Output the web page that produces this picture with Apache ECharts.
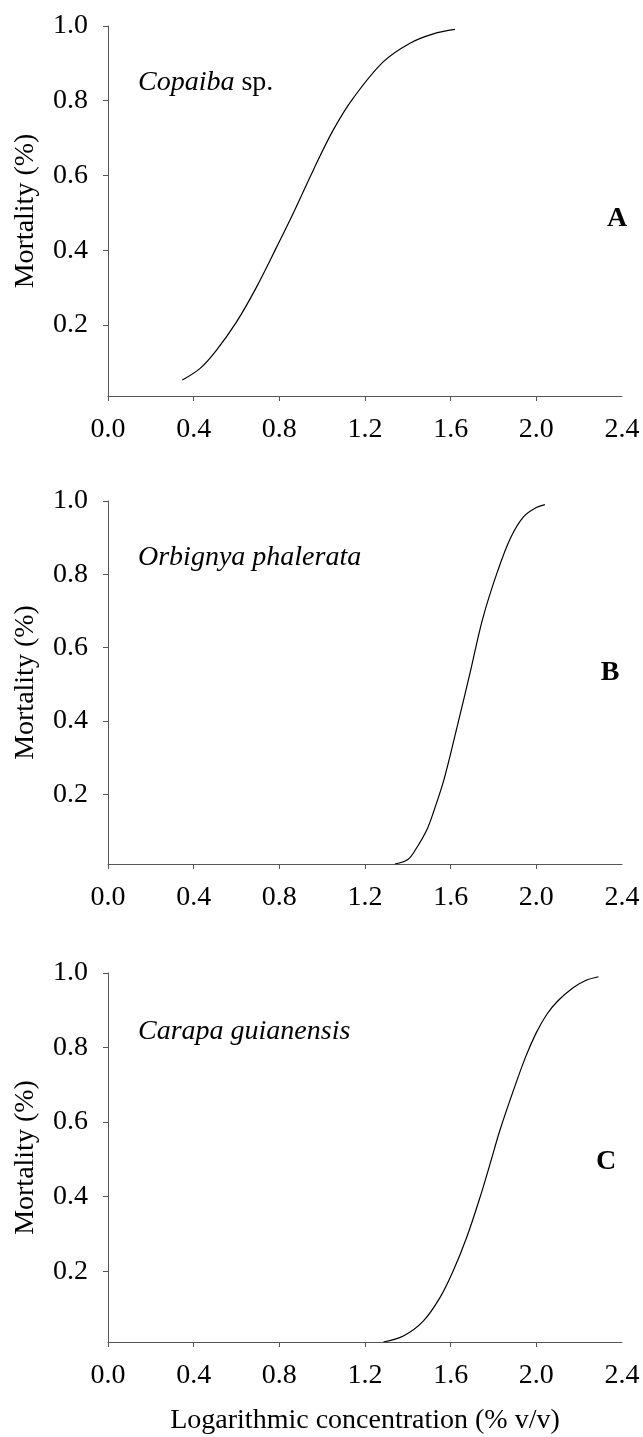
<!DOCTYPE html>
<html>
<head>
<meta charset="utf-8">
<script src="https://cdn.jsdelivr.net/npm/echarts@6/dist/echarts.min.js"></script>
<style>
html,body{margin:0;padding:0;background:#fff;}
#chart{width:643px;height:1437px;}
</style>
</head>
<body>
<div id="chart"></div>
<script>
// ---- data ----
const xTickValues = [0.0, 0.4, 0.8, 1.2, 1.6, 2.0];
const yTickValues = [0.2, 0.4, 0.6, 0.8, 1.0];

const concA = [0.347, 0.43, 0.507, 0.601, 0.694, 0.788, 0.865, 0.959, 1.052, 1.145, 1.285, 1.41, 1.519, 1.62];
const mortA = [0.053, 0.084, 0.133, 0.209, 0.302, 0.409, 0.499, 0.615, 0.722, 0.807, 0.904, 0.954, 0.979, 0.991];

const concB = [1.34, 1.40, 1.44, 1.49, 1.52, 1.57, 1.63, 1.69, 1.75, 1.82, 1.88, 1.94, 2.0, 2.04];
const mortB = [0.01, 0.022, 0.053, 0.105, 0.152, 0.243, 0.384, 0.53, 0.68, 0.81, 0.90, 0.957, 0.982, 0.99];

const concC = [1.286, 1.379, 1.472, 1.55, 1.612, 1.675, 1.737, 1.784, 1.83, 1.893, 1.95, 2.0, 2.05, 2.1, 2.17, 2.23, 2.29];
const mortC = [0.01, 0.026, 0.066, 0.129, 0.201, 0.291, 0.398, 0.488, 0.578, 0.685, 0.775, 0.84, 0.89, 0.925, 0.96, 0.98, 0.99];

const species = ['Copaiba', 'Orbignya phalerata', 'Carapa guianensis'];
const panelLetters = ['A', 'B', 'C'];
const yName = 'Mortality (%)';
const xName = 'Logarithmic concentration (% v/v)';

// ---- layout ----
const FONT = '"Liberation Serif", "Times New Roman", serif';
const grids = [
  {left: 108, width: 514, top: 26, height: 370},
  {left: 108, width: 514, top: 501, height: 363},
  {left: 108, width: 514, top: 973, height: 369}
];
const axisColor = '#555';

function pairs(xs, ys){ return xs.map((x,i)=>[x, ys[i]]); }
const seriesData = [pairs(concA, mortA), pairs(concB, mortB), pairs(concC, mortC)];

const option = {
  animation: false,
  backgroundColor: '#fff',
  grid: grids.map(g => Object.assign({containLabel: false}, g)),
  xAxis: grids.map((g, i) => ({
    type: 'value', gridIndex: i, min: 0, max: 2.4, interval: 0.4,
    axisLine: {show: true, onZero: false, lineStyle: {color: axisColor, width: 1}},
    axisTick: {show: true, inside: false, length: 5, customValues: xTickValues, lineStyle: {color: axisColor}},
    splitLine: {show: false},
    axisLabel: {show: true, margin: 20, fontFamily: FONT, fontSize: 28, color: '#000',
      formatter: v => v.toFixed(1)}
  })),
  yAxis: grids.map((g, i) => ({
    type: 'value', gridIndex: i, min: 0.01, max: 1.0,
    axisLine: {show: true, onZero: false, lineStyle: {color: axisColor, width: 1}},
    axisTick: {show: true, inside: false, length: 5, customValues: yTickValues, lineStyle: {color: axisColor}},
    splitLine: {show: false},
    axisLabel: {show: true, margin: 20, fontFamily: FONT, fontSize: 28, color: '#000',
      customValues: yTickValues, formatter: v => v.toFixed(1)}
  })),
  series: seriesData.map((d, i) => ({
    type: 'line', xAxisIndex: i, yAxisIndex: i, data: d,
    smooth: 0.35, showSymbol: false, symbol: 'none',
    lineStyle: {color: '#000', width: 1.2}
  })),
  graphic: []
};

// y-axis names
grids.forEach((g, i) => {
  option.graphic.push({
    type: 'text', x: 26, y: g.top + g.height / 2, rotation: Math.PI / 2,
    style: {text: yName, font: '28px ' + FONT, fill: '#000', textAlign: 'center', textVerticalAlign: 'middle'}
  });
});
// species labels
option.graphic.push({
  type: 'text', x: 138, y: 97,
  style: {
    text: '{i|Copaiba} {n|sp.}',
    rich: {i: {fontFamily: FONT, fontSize: 28, fontStyle: 'italic', fill: '#000'},
           n: {fontFamily: FONT, fontSize: 28, fill: '#000'}},
    textAlign: 'left', textVerticalAlign: 'bottom', fill: '#000', font: '28px ' + FONT
  }
});
option.graphic.push({
  type: 'text', x: 138, y: 572,
  style: {text: species[1], font: 'italic 28px ' + FONT, fill: '#000', textAlign: 'left', textVerticalAlign: 'bottom'}
});
option.graphic.push({
  type: 'text', x: 138, y: 1046,
  style: {text: species[2], font: 'italic 28px ' + FONT, fill: '#000', textAlign: 'left', textVerticalAlign: 'bottom'}
});
// panel letters
const letterPos = [[617, 219], [610, 673], [606, 1162]];
panelLetters.forEach((L, i) => {
  option.graphic.push({
    type: 'text', x: letterPos[i][0], y: letterPos[i][1],
    style: {text: L, font: 'bold 28px ' + FONT, fill: '#000', textAlign: 'center', textVerticalAlign: 'middle'}
  });
});
// x-axis title
option.graphic.push({
  type: 'text', x: 365, y: 1421,
  style: {text: xName, font: '28px ' + FONT, fill: '#000', textAlign: 'center', textVerticalAlign: 'middle'}
});

const chart = echarts.init(document.getElementById('chart'), null, {renderer: 'canvas'});
chart.setOption(option);
</script>
</body>
</html>
